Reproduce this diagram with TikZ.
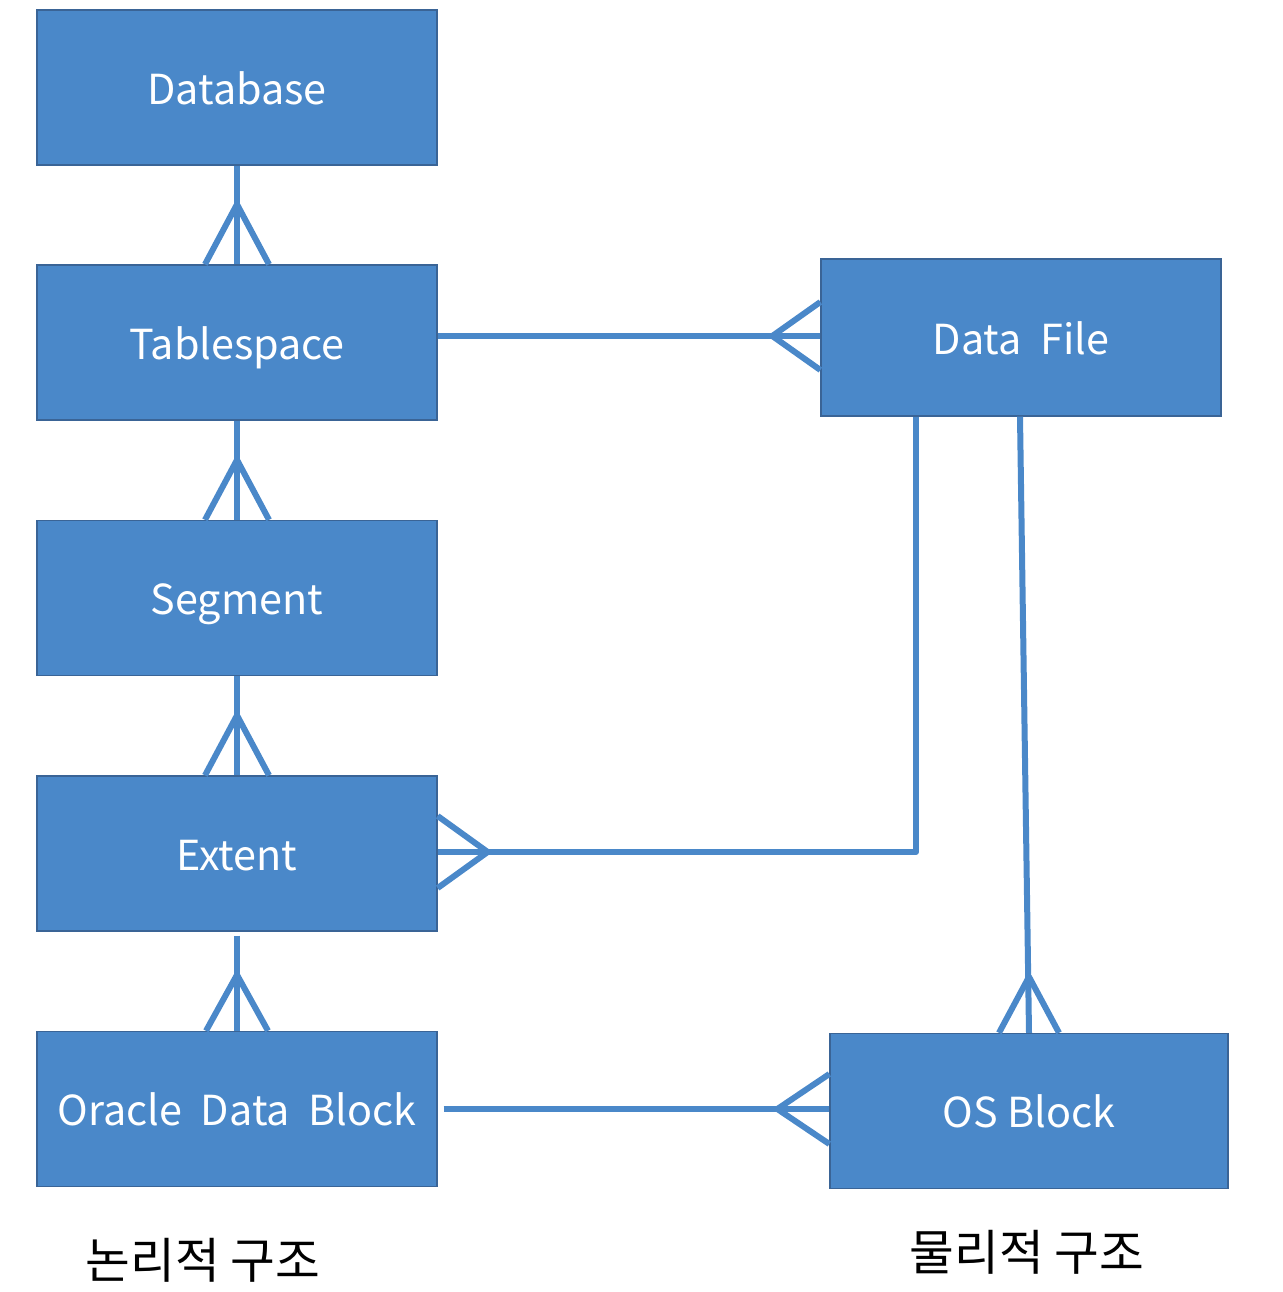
\documentclass[tikz,border=0pt]{standalone}
\usepackage{fontspec}
\setmainfont{Noto Sans CJK KR}
\usetikzlibrary{calc}
\definecolor{boxfill}{RGB}{74,136,201}
\definecolor{boxline}{RGB}{58,100,150}
\definecolor{conn}{RGB}{74,136,201}
\begin{document}
\begin{tikzpicture}[x=0.75pt,y=-0.75pt,
  box/.style={rectangle, fill=boxfill, draw=boxline, line width=1pt,
    minimum width=300pt, minimum height=116.25pt, inner sep=0pt,
    text height=28pt, text depth=3.25pt,
    text=white, font=\fontsize{31}{37}\selectfont},
  link/.style={draw=conn, line width=4.5pt, line join=round},
  lbl/.style={font=\fontsize{36.5}{44}\selectfont, text=black}]
\useasboundingbox (0,0) rectangle (1282,1292);

\node[box] (db)  at (237,87.5)  {Database};
\node[box] (ts)  at (237,342.5) {Tablespace};
\node[box] (seg) at (237,598)   {Segment};
\node[box] (ext) at (237,853.5) {Extent};
\node[box] (odb) at (237,1109)  {Oracle\ \ Data\ \ Block};
\node[box, minimum height=117.75pt] (df) at (1021,337.5) {Data\ \ File};
\node[box, minimum width=298.5pt] (os) at (1029,1111) {OS Block};

% Database -- Tablespace
\draw[link] (db.south) -- (ts.north);
\draw[link] ($(ts.north)+(-32,0)$) -- ($(ts.north)+(0,-60)$) -- ($(ts.north)+(32,0)$);
% Tablespace -- Segment
\draw[link] (ts.south) -- (seg.north);
\draw[link] ($(seg.north)+(-32,0)$) -- ($(seg.north)+(0,-60)$) -- ($(seg.north)+(32,0)$);
% Segment -- Extent
\draw[link] (seg.south) -- (ext.north);
\draw[link] ($(ext.north)+(-32,0)$) -- ($(ext.north)+(0,-60)$) -- ($(ext.north)+(32,0)$);
% Extent -- Oracle Data Block
\draw[link] ($(ext.south)+(0,4)$) -- (odb.north);
\draw[link] ($(odb.north)+(-31,0)$) -- ($(odb.north)+(0,-56)$) -- ($(odb.north)+(31,0)$);
% Tablespace -- Data File
\draw[link] (ts.east |- 0,336) -- (df.west |- 0,336);
\draw[link] ($(df.west |- 0,336)+(0,-34)$) -- ($(df.west |- 0,336)+(-48,0)$) -- ($(df.west |- 0,336)+(0,34)$);
% Data File -- Extent
\coordinate (bend) at (916,852);
\draw[link] (bend |- df.south) -- (bend) -- (ext.east |- bend);
\draw[link] ($(ext.east |- bend)+(0,-36)$) -- ($(ext.east |- bend)+(50,0)$) -- ($(ext.east |- bend)+(0,36)$);
% Data File -- OS Block
\draw[link] ($(df.south)+(-1,0)$) -- (os.north);
\draw[link] ($(os.north)+(-30,0)$) -- ($(os.north)+(0,-56)$) -- ($(os.north)+(30,0)$);
% Oracle Data Block -- OS Block
\draw[link] ($(odb.east)+(6,0)$) -- (os.west |- odb.east);
\draw[link] ($(os.west |- odb.east)+(0,-35)$) -- ($(os.west |- odb.east)+(-52,0)$) -- ($(os.west |- odb.east)+(0,35)$);

\node[lbl] (logical)  at (203,1260) {논리적 구조};
\node[lbl] (physical) at (1027,1252) {물리적 구조};
\end{tikzpicture}
\end{document}
